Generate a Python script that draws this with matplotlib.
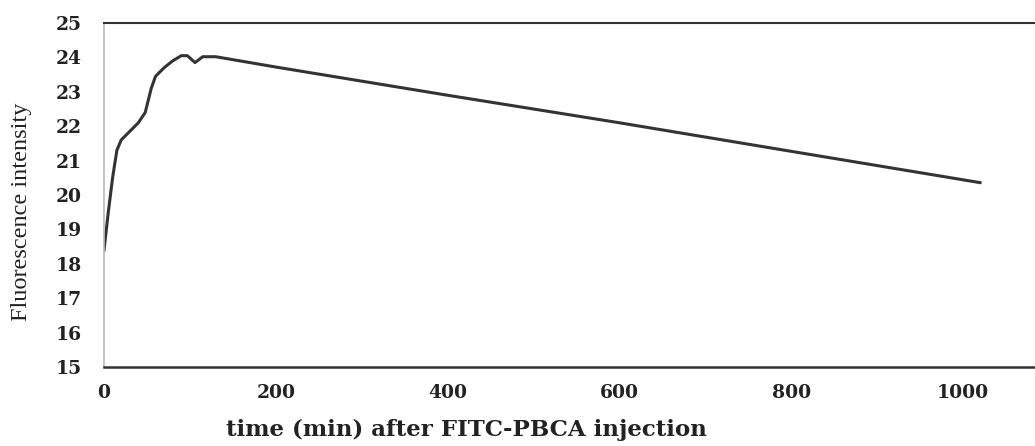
import matplotlib
matplotlib.use("Agg")
import matplotlib.pyplot as plt

# fluorescence after FITC-PBCA injection
time_min = [0, 5, 10, 15, 20, 30, 40, 48, 55, 60, 70, 80, 90, 97, 106, 115, 130,
            200, 400, 600, 800, 1020]
intensity = [18.4, 19.5, 20.5, 21.3, 21.6, 21.85, 22.1, 22.4, 23.1, 23.45, 23.7,
             23.9, 24.05, 24.05, 23.85, 24.02, 24.02,
             23.72, 22.9, 22.1, 21.27, 20.36]

xticks = [0, 200, 400, 600, 800, 1000]
yticks = list(range(15, 26))

plt.rcParams['font.family'] = ['Liberation Serif', 'DejaVu Serif']
wide_bold = dict(family='DejaVu Serif', weight='bold', color='#222222')

fig = plt.figure(figsize=(10.35, 4.46), dpi=100)
ax = fig.add_axes([104 / 1035, 1 - 367 / 446, 1 - 104 / 1035, (367 - 23) / 446])

ax.plot(time_min, intensity, color='#333333', lw=2.2, solid_joinstyle='round')

ax.set_xlim(0, 1084)
ax.set_ylim(15, 25)
ax.set_xticks(xticks)
ax.set_yticks(yticks)
ax.set_xticklabels([str(t) for t in xticks], fontsize=13.5, **wide_bold)
ax.set_yticklabels([str(t) for t in yticks], fontsize=13.5, **wide_bold)
ax.tick_params(length=0)
ax.tick_params(axis='x', pad=12)
ax.tick_params(axis='y', pad=16)

ax.spines['right'].set_visible(False)
ax.spines['left'].set_color('#bbbbbb')
ax.spines['left'].set_linewidth(1.2)
ax.spines['top'].set_color('#333333')
ax.spines['top'].set_linewidth(1.5)
ax.spines['bottom'].set_color('#333333')
ax.spines['bottom'].set_linewidth(1.8)

fig.text(22 / 1035, 1 - 212 / 446, 'Fluorescence intensity', rotation=90,
         ha='center', va='center', fontsize=17.5, color='#222222')
fig.text(466 / 1035, 1 - 430 / 446, 'time (min) after FITC-PBCA injection',
         ha='center', va='center', fontsize=16.5, **wide_bold)

fig.savefig('out.png', dpi=100)
